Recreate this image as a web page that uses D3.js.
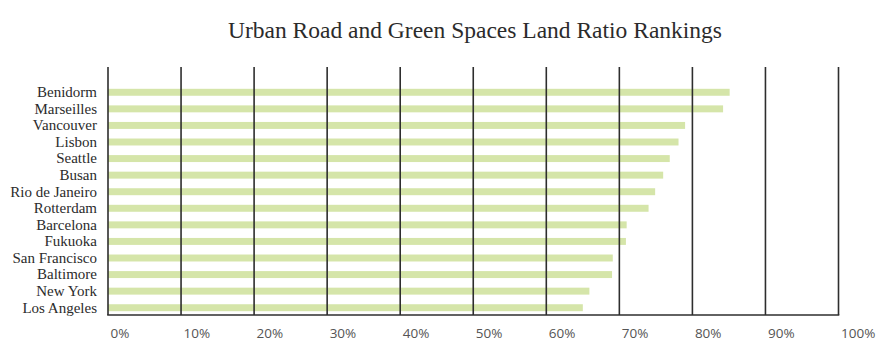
<!DOCTYPE html>
<html>
<head>
<meta charset="utf-8">
<script src="https://cdn.jsdelivr.net/npm/d3@7"></script>
<style>
  html, body { margin: 0; padding: 0; background: #fff; }
  svg { display: block; }
</style>
</head>
<body>
<svg id="chart" width="877" height="341"></svg>
<script>
// Cities ranked by share of land used for roads and green spaces (%)
const cities = ["Benidorm", "Marseilles", "Vancouver", "Lisbon", "Seattle", "Busan",
  "Rio de Janeiro", "Rotterdam", "Barcelona", "Fukuoka", "San Francisco",
  "Baltimore", "New York", "Los Angeles"];
const ratios = [85.1, 84.2, 79.0, 78.1, 76.9, 76.0, 74.9, 74.0, 71.0, 70.9, 69.1, 69.0, 65.9, 65.0];
const tickValues = [0, 10, 20, 30, 40, 50, 60, 70, 80, 90, 100];
const titleText = "Urban Road and Green Spaces Land Ratio Rankings";

const svg = d3.select("#chart");

const plot = { left: 108, right: 838.5, top: 67, bottom: 315 };

const x = d3.scaleLinear().domain([0, 100]).range([plot.left, plot.right]);
const y = d3.scaleBand().domain(cities).range([84, 316]).paddingInner(0.58).paddingOuter(0.29);

// Title
svg.append("text")
  .attr("x", 475)
  .attr("y", 38)
  .attr("text-anchor", "middle")
  .attr("font-family", "'Liberation Serif', 'Times New Roman', serif")
  .attr("font-size", 23.5)
  .attr("fill", "#2b2b2b")
  .text(titleText);

// Bars
svg.append("g")
  .selectAll("rect")
  .data(cities)
  .join("rect")
  .attr("x", x(0))
  .attr("y", d => y(d))
  .attr("width", (d, i) => x(ratios[i]) - x(0))
  .attr("height", y.bandwidth())
  .attr("fill", "#d5e5a9");

// Vertical grid lines
svg.append("g")
  .selectAll("line")
  .data(tickValues)
  .join("line")
  .attr("x1", d => x(d))
  .attr("x2", d => x(d))
  .attr("y1", plot.top)
  .attr("y2", plot.bottom)
  .attr("stroke", "#2e2e2e")
  .attr("stroke-width", 1.6);

// Baseline
svg.append("line")
  .attr("x1", x(0) - 0.8)
  .attr("x2", x(100) + 0.8)
  .attr("y1", plot.bottom)
  .attr("y2", plot.bottom)
  .attr("stroke", "#2e2e2e")
  .attr("stroke-width", 1.6);

// Bottom tick labels (left-aligned at each grid line)
const xAxis = d3.axisBottom(x)
  .tickValues(tickValues)
  .tickFormat(d => d + "%")
  .tickSize(0)
  .tickPadding(0);

const xg = svg.append("g")
  .attr("transform", `translate(0,${plot.bottom})`)
  .call(xAxis);
xg.select(".domain").remove();
xg.selectAll("text")
  .attr("text-anchor", "start")
  .attr("dx", 2)
  .attr("dy", 0)
  .attr("y", 22.5)
  .attr("font-family", "'Open Sans', sans-serif")
  .attr("font-size", 13.5)
  .attr("fill", "#555");

// Category labels
const yAxis = d3.axisLeft(y).tickSize(0).tickPadding(0);
const yg = svg.append("g")
  .attr("transform", `translate(97,0)`)
  .call(yAxis);
yg.select(".domain").remove();
yg.selectAll("text")
  .attr("font-family", "'Liberation Serif', 'Times New Roman', serif")
  .attr("font-size", 15)
  .attr("fill", "#2b2b2b");
</script>
</body>
</html>
